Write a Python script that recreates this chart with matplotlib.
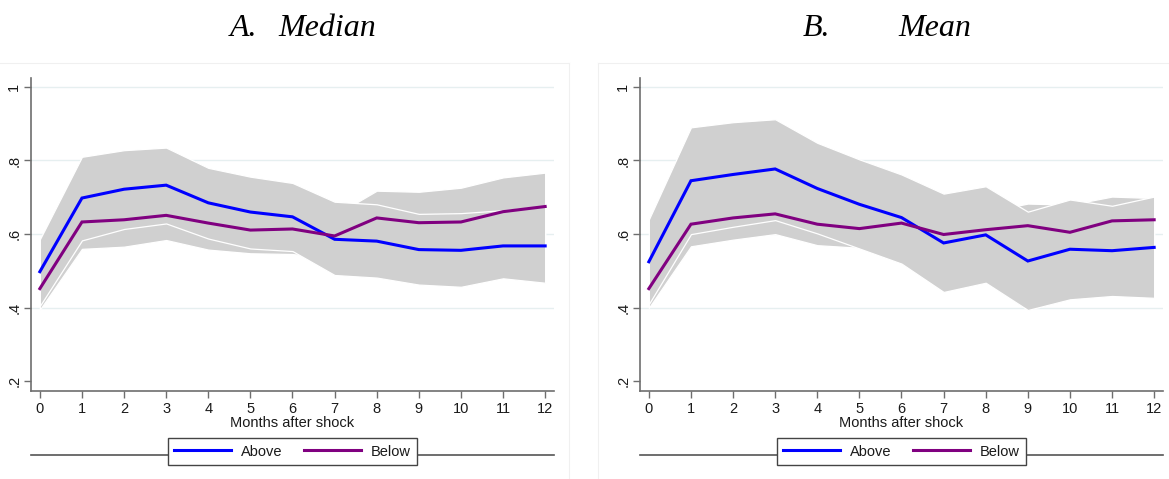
import matplotlib
matplotlib.use("Agg")
import matplotlib.pyplot as plt
from matplotlib.lines import Line2D
from matplotlib.ticker import FixedLocator, FixedFormatter

plt.rcParams["font.family"] = ["Liberation Sans", "DejaVu Sans"]

# ---- data -------------------------------------------------------------
months = list(range(13))
x_ticks = months
y_ticks = [0.2, 0.4, 0.6, 0.8, 1.0]
y_tick_labels = [".2", ".4", ".6", ".8", "1"]
series_names = ["Above", "Below"]
panel_titles = [("A.", "Median"), ("B.", "Mean")]
x_label = "Months after shock"

# Panel A: median
above_med = [0.498, 0.698, 0.722, 0.733, 0.685, 0.660, 0.647, 0.586, 0.581, 0.558, 0.556, 0.568, 0.568]
below_med = [0.452, 0.633, 0.639, 0.651, 0.630, 0.611, 0.614, 0.595, 0.644, 0.631, 0.633, 0.661, 0.675]
above_med_hi = [0.586, 0.810, 0.828, 0.835, 0.780, 0.756, 0.739, 0.688, 0.681, 0.655, 0.657, 0.665, 0.676]
above_med_lo = [0.405, 0.583, 0.614, 0.629, 0.588, 0.561, 0.554, 0.489, 0.482, 0.463, 0.457, 0.480, 0.468]
below_med_hi = [0.500, 0.710, 0.715, 0.720, 0.700, 0.680, 0.680, 0.651, 0.718, 0.715, 0.726, 0.754, 0.767]
below_med_lo = [0.395, 0.560, 0.566, 0.584, 0.558, 0.548, 0.546, 0.530, 0.560, 0.550, 0.550, 0.570, 0.580]

# Panel B: mean
above_mean = [0.525, 0.745, 0.762, 0.777, 0.724, 0.681, 0.645, 0.576, 0.598, 0.527, 0.559, 0.555, 0.564]
below_mean = [0.452, 0.627, 0.644, 0.655, 0.627, 0.615, 0.630, 0.599, 0.612, 0.623, 0.605, 0.636, 0.639]
above_mean_hi = [0.640, 0.890, 0.904, 0.912, 0.848, 0.803, 0.762, 0.710, 0.730, 0.661, 0.694, 0.677, 0.702]
above_mean_lo = [0.410, 0.600, 0.620, 0.638, 0.602, 0.561, 0.520, 0.443, 0.468, 0.394, 0.423, 0.432, 0.427]
below_mean_hi = [0.500, 0.690, 0.700, 0.710, 0.680, 0.670, 0.680, 0.660, 0.660, 0.683, 0.680, 0.702, 0.698]
below_mean_lo = [0.400, 0.567, 0.585, 0.600, 0.570, 0.563, 0.580, 0.550, 0.560, 0.560, 0.550, 0.570, 0.580]

panels = [
    (above_med, below_med, above_med_hi, above_med_lo, below_med_hi, below_med_lo),
    (above_mean, below_mean, above_mean_hi, above_mean_lo, below_mean_hi, below_mean_lo),
]

# ---- styling ----------------------------------------------------------
W, H = 1169, 479
BLUE = "#0000ff"
PURPLE = "#800080"
BAND = "#d0d0d0"
GRID = "#e6eff0"
AXIS = "#6e6e6e"
TEXT = "#1a1a1a"

fig = plt.figure(figsize=(W / 100, H / 100), dpi=100)
fig.patch.set_facecolor("white")

def fx(px):
    return px / W

def fy(py):
    return 1 - py / H

# axes rectangles in pixels: (left, top, right, bottom)
rects = [(31, 78, 554, 391), (640, 78, 1163, 391)]
frames = [(0, 63, 569), (598, 63, 1169)]

for i, (rect, data) in enumerate(zip(rects, panels)):
    l, t, r, b = rect
    ax = fig.add_axes([fx(l), fy(b), fx(r - l), (b - t) / H])
    a, bl, a_hi, a_lo, b_hi, b_lo = data

    ax.fill_between(months, b_lo, b_hi, facecolor=BAND, edgecolor="white",
                    linewidth=0.9, zorder=2)
    ax.fill_between(months, a_lo, a_hi, facecolor=BAND, edgecolor="white",
                    linewidth=0.9, zorder=3)
    ln_a, = ax.plot(months, a, color=BLUE, lw=2.2, zorder=5,
                    solid_joinstyle="miter", label=series_names[0])
    ln_b, = ax.plot(months, bl, color=PURPLE, lw=2.2, zorder=6,
                    solid_joinstyle="miter", label=series_names[1])

    ax.set_xlim(-0.21, 12.21)
    ax.set_ylim(0.174, 1.024)
    for g in y_ticks[1:]:
        ax.axhline(g, color=GRID, lw=1.0, zorder=1)

    ax.xaxis.set_major_locator(FixedLocator(x_ticks))
    ax.yaxis.set_major_locator(FixedLocator(y_ticks))
    ax.yaxis.set_major_formatter(FixedFormatter(y_tick_labels))
    ax.tick_params(axis="both", direction="out", length=5, width=1.0,
                   color=AXIS, labelcolor=TEXT, labelsize=10.5)
    ax.tick_params(axis="x", pad=3)
    ax.tick_params(axis="y", pad=2)
    for lab in ax.get_yticklabels():
        lab.set_rotation(90)
        lab.set_va("center")

    for side in ("top", "right"):
        ax.spines[side].set_visible(False)
    for side in ("left", "bottom"):
        ax.spines[side].set_color(AXIS)
        ax.spines[side].set_linewidth(1.2)
    ax.set_facecolor("white")

    ax.set_xlabel(x_label, fontsize=10.5, color=TEXT, labelpad=0)

    # faint outer frame of the panel
    fl, ft, fr = frames[i]
    fig.add_artist(Line2D([fx(fl), fx(fr)], [fy(ft), fy(ft)], color="#f0f0f0",
                          lw=0.8, zorder=0))
    edge_x = fr if i == 0 else fl
    fig.add_artist(Line2D([fx(edge_x), fx(edge_x)], [fy(ft), 0], color="#f0f0f0",
                          lw=0.8, zorder=0))

    # rule behind the legend box
    fig.add_artist(Line2D([fx(l), fx(r)], [fy(455), fy(455)], color="#555555",
                          lw=1.2, zorder=1))

    cx = (l + r) / 2
    leg = fig.legend(handles=[ln_a, ln_b], loc="center",
                     bbox_to_anchor=(fx(cx), fy(451.5)), ncol=2,
                     frameon=True, fancybox=False, framealpha=1,
                     edgecolor="#444444", facecolor="white",
                     fontsize=10.5, handlelength=3.9, handletextpad=0.7,
                     columnspacing=1.45, borderpad=0.45, borderaxespad=0)
    leg.get_frame().set_linewidth(1.0)
    leg.set_zorder(5)
    for txt in leg.get_texts():
        txt.set_color(TEXT)

# panel captions
serif = ["Liberation Serif", "DejaVu Serif"]
title_kw = dict(family=serif, style="italic", fontsize=23, va="baseline",
                ha="left", color="black")
fig.text(fx(230), fy(36), panel_titles[0][0], **title_kw)
fig.text(fx(278), fy(36), panel_titles[0][1], **title_kw)
fig.text(fx(803), fy(36), panel_titles[1][0], **title_kw)
fig.text(fx(898), fy(36), panel_titles[1][1], **title_kw)

fig.savefig("out.png", dpi=100, facecolor="white")
